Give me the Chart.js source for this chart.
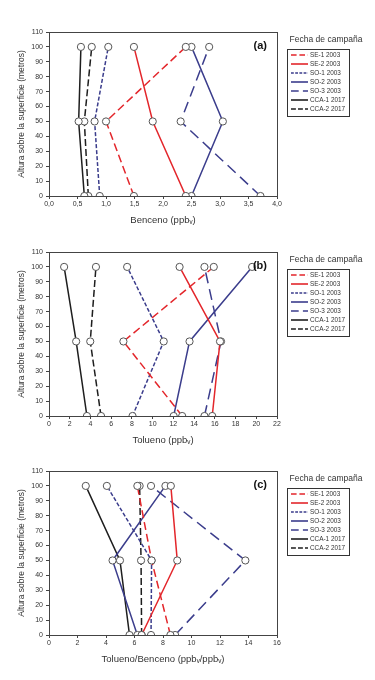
<!DOCTYPE html>
<html>
<head>
<meta charset="utf-8">
<script src="https://cdn.jsdelivr.net/npm/chart.js@4"></script>
<style>
  html, body { margin: 0; padding: 0; background: #fff; }
  #wrap { position: relative; width: 375px; height: 680px; overflow: hidden; }
  .panel { position: absolute; left: 0; width: 375px; height: 230px; }
</style>
</head>
<body>
<div id="wrap">
  <div class="panel" style="top:0px"><canvas id="chartA"></canvas></div>
  <div class="panel" style="top:220px"><canvas id="chartB"></canvas></div>
  <div class="panel" style="top:439px"><canvas id="chartC"></canvas></div>
</div>
<script>
// Vertical profiles: height above surface (m) vs concentration, three panels

const heights = [0, 50, 100];

const campaigns = ["SE-1 2003", "SE-2 2003", "SO-1 2003", "SO-2 2003", "SO-3 2003", "CCA-1 2017", "CCA-2 2017"];

// values at 0, 50 and 100 m, one row per campaign
const benceno = [
    [1.49, 1.00, 2.40],
    [2.40, 1.82, 1.49],
    [0.89, 0.80, 1.04],
    [2.50, 3.05, 2.50],
    [3.71, 2.31, 2.81],
    [0.62, 0.52, 0.56],
    [0.69, 0.62, 0.75]
];

const tolueno = [
    [12.85, 7.18, 15.9],
    [15.75, 16.5, 12.6],
    [8.06, 11.07, 7.54],
    [12.03, 13.56, 19.6],
    [15.0, 16.6, 15.0],
    [3.66, 2.62, 1.46],
    [5.02, 3.98, 4.53]
];

const ratio = [
    [8.52, 7.20, 6.20],
    [6.50, 9.00, 8.55],
    [7.16, 7.20, 4.06],
    [6.20, 4.46, 8.17],
    [8.85, 13.78, 7.16],
    [5.65, 4.98, 2.58],
    [6.50, 6.46, 6.36]
];

const RED = "#e3262b";
const NAVY = "#3b3d8c";
const BLACK = "#1e1e1e";
const lineColors = [RED, RED, NAVY, NAVY, NAVY, BLACK, BLACK];
const lineDashes = [[8, 4], [], [4, 2], [], [11, 6], [], [7, 3]];

const FONT = "'Liberation Sans', Arial, sans-serif";

// frame around plot area, panel letter and the legend box
const framePlugin = {
    id: "frame",
    afterDraw(chart, args, opts) {
        const ctx = chart.ctx;
        const a = chart.chartArea;
        ctx.save();
        ctx.strokeStyle = "#444";
        ctx.lineWidth = 1;
        ctx.strokeRect(a.left + 0.5, a.top + 0.5, a.right - a.left, a.bottom - a.top);

        ctx.fillStyle = "#111";
        ctx.font = "bold 11px " + FONT;
        ctx.textAlign = "right";
        ctx.textBaseline = "middle";
        ctx.fillText(opts.label, a.right - 10, a.top + 14);

        // legend
        const lx = 287, ly = 49, lw = 62, lh = 67;
        ctx.fillStyle = "#333";
        ctx.font = "8.5px " + FONT;
        ctx.textAlign = "center";
        ctx.fillText("Fecha de campaña", 326, 40);
        ctx.strokeStyle = "#333";
        ctx.strokeRect(lx + 0.5, ly + 0.5, lw, lh);

        ctx.font = "6.4px " + FONT;
        ctx.textAlign = "left";
        chart.data.datasets.forEach(function(ds, i) {
            const y = ly + 6 + i * 9;
            ctx.beginPath();
            ctx.strokeStyle = ds.borderColor;
            ctx.lineWidth = 1.6;
            ctx.setLineDash(ds.borderDash.map(function(d) { return d * 0.7; }));
            ctx.moveTo(lx + 4, y);
            ctx.lineTo(lx + 21, y);
            ctx.stroke();
            ctx.setLineDash([]);
            ctx.fillStyle = "#333";
            ctx.fillText(ds.label, lx + 23, y);
        });
        ctx.restore();
    }
};

function makeChart(id, values, xMax, xStep, xTitle, label, decimals) {
    const datasets = campaigns.map(function(name, i) {
        return {
            label: name,
            data: heights.map(function(h, k) { return { x: values[i][k], y: h }; }),
            showLine: true,
            borderColor: lineColors[i],
            borderDash: lineDashes[i],
            borderWidth: 1.5,
            pointRadius: 3.6,
            pointBackgroundColor: "#fff",
            pointBorderColor: "#555",
            pointBorderWidth: 1,
            tension: 0
        };
    });

    return new Chart(document.getElementById(id), {
        type: "scatter",
        data: { datasets: datasets },
        options: {
            responsive: true,
            maintainAspectRatio: false,
            animation: false,
            layout: { padding: { top: 32, right: 98, left: 0, bottom: 0 } },
            scales: {
                x: {
                    type: "linear",
                    min: 0,
                    max: xMax,
                    afterFit: function(scale) { scale.height = 34; },
                    ticks: {
                        stepSize: xStep,
                        padding: 1,
                        color: "#333",
                        font: { family: FONT, size: 7 },
                        callback: function(v) { return v.toFixed(decimals).replace(".", ","); }
                    },
                    grid: { drawOnChartArea: false, tickLength: 3, color: "#444" },
                    border: { color: "#444" },
                    title: {
                        display: true,
                        text: xTitle,
                        color: "#333",
                        font: { family: FONT, size: 9.5 },
                        padding: { top: 0, bottom: 4 }
                    }
                },
                y: {
                    min: 0,
                    max: 110,
                    afterFit: function(scale) { scale.width = 49; },
                    ticks: {
                        stepSize: 10,
                        padding: 3,
                        color: "#333",
                        font: { family: FONT, size: 7 }
                    },
                    grid: { drawOnChartArea: false, tickLength: 3, color: "#444" },
                    border: { color: "#444" },
                    title: {
                        display: true,
                        text: "Altura sobre la superficie (metros)",
                        color: "#333",
                        font: { family: FONT, size: 8.5 },
                        padding: { top: 17, bottom: 0 }
                    }
                }
            },
            plugins: {
                legend: { display: false },
                tooltip: { enabled: false },
                frame: { label: label }
            }
        },
        plugins: [framePlugin]
    });
}

makeChart("chartA", benceno, 4, 0.5, "Benceno (ppbᵥ)", "(a)", 1);
makeChart("chartB", tolueno, 22, 2, "Tolueno (ppbᵥ)", "(b)", 0);
makeChart("chartC", ratio, 16, 2, "Tolueno/Benceno (ppbᵥ/ppbᵥ)", "(c)", 0);
</script>
</body>
</html>
